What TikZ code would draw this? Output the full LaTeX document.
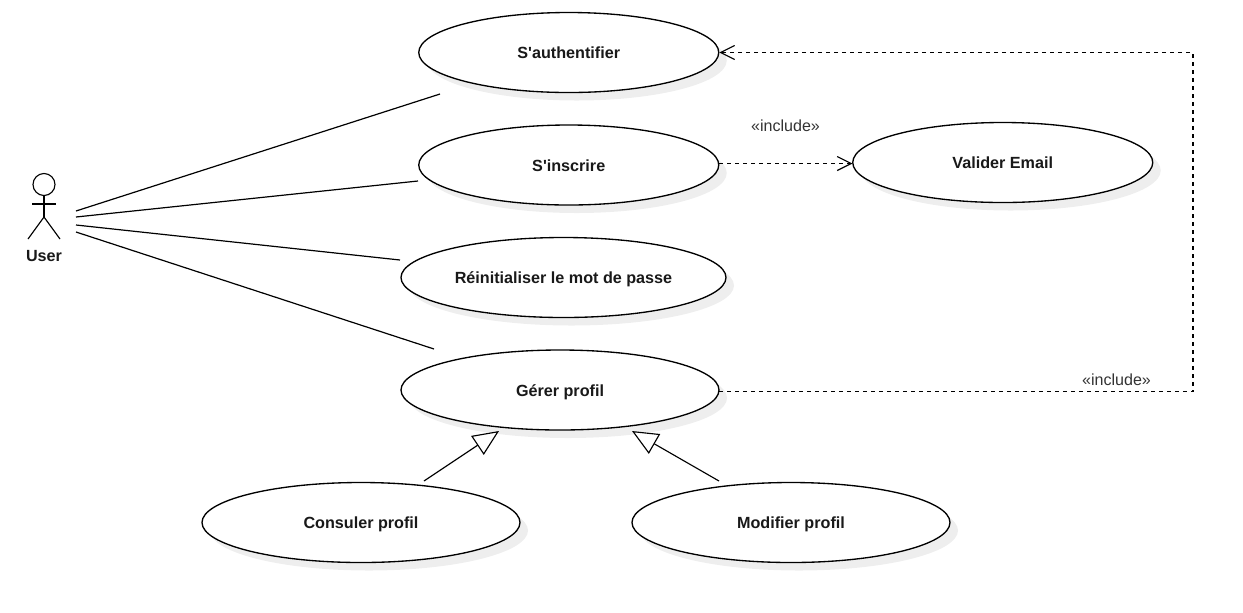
\documentclass[tikz,border=0pt]{standalone}
\usepackage{fontspec}
\setmainfont{Liberation Sans}
\usetikzlibrary{shapes.geometric,shadows,arrows.meta}
\definecolor{shadowgrey}{HTML}{EEEEEE}
\definecolor{labelgrey}{HTML}{333333}
\tikzset{
  usecase/.style={ellipse,draw=black,fill=white,line width=1pt,inner sep=0pt,minimum height=60pt,
    font=\bfseries\fontsize{12.12}{14}\selectfont,text=black!90,text height=10.5pt,text depth=1pt,
    drop shadow={shadow xshift=6pt,shadow yshift=-6pt,fill=shadowgrey,opacity=1}},
  assoc/.style={line width=0.9pt,draw=black},
  incl/.style={line width=0.85pt,draw=black,dash pattern=on 3pt off 3pt,-{Straight Barb[length=10.5pt,width=10.5pt,line width=0.85pt]}},
  gener/.style={line width=0.85pt,draw=black,-{Triangle[open,fill=white,length=19.5pt,width=17pt,line width=0.85pt]}},
  stereo/.style={font=\fontsize{12.05}{14}\selectfont,text=labelgrey,inner sep=0pt},
  stick/.style={line width=0.85pt,draw=black}
}
\begin{document}
\begin{tikzpicture}[x=0.75pt,y=-0.75pt]
\useasboundingbox (0,0) rectangle (1243,612);
\node[usecase,minimum width=225pt] (auth) at (568.75,52.5) {S\textquotesingle authentifier};
\node[usecase,minimum width=225pt] (insc) at (568.75,165) {S\textquotesingle inscrire};
\node[usecase,minimum width=243.75pt] (reset) at (563.5,277.5) {Réinitialiser le mot de passe};
\node[usecase,minimum width=238.5pt] (profil) at (560,390) {Gérer profil};
\node[usecase,minimum width=238.5pt] (consult) at (361,522.5) {Consuler profil};
\node[usecase,minimum width=238.5pt] (modif) at (791,522.5) {Modifier profil};
\node[usecase,minimum width=225pt] (email) at (1002.75,162.5) {Valider Email};
% actor
\node[circle,draw=black,line width=0.85pt,minimum size=16.5pt,inner sep=0pt] (head) at (44,184.5) {};
\coordinate (hip) at (44,217);
\coordinate (armL) at (32,204);
\coordinate (armR) at (56,204);
\coordinate (footL) at (28,239);
\coordinate (footR) at (60,239);
\draw[stick] (head.south) -- (hip);
\draw[stick] (armL) -- (armR);
\draw[stick] (footL) -- (hip) -- (footR);
\node[font=\bfseries\fontsize{12.12}{14}\selectfont,text=black!90,inner sep=0pt,text height=10.5pt,text depth=1pt] (user) at (44,255) {User};
% associations
\coordinate (u1) at (76,211);
\coordinate (u2) at (76,217);
\coordinate (u3) at (76,225);
\coordinate (u4) at (76,232);
\coordinate (e1) at (440,94);
\coordinate (e2) at (418,181);
\coordinate (e3) at (400,260);
\coordinate (e4) at (434,349);
\draw[assoc] (u1) -- (e1);
\draw[assoc] (u2) -- (e2);
\draw[assoc] (u3) -- (e3);
\draw[assoc] (u4) -- (e4);
% include
\coordinate (i1) at (719,163.5);
\coordinate (i2) at (852.5,163.5);
\coordinate (p1) at (719,391.5);
\coordinate (c1) at (1193,391.5);
\coordinate (c2) at (1193,52.5);
\draw[incl] (i1) -- (i2);
\draw[incl] (p1) -- (c1) -- (c2) -- (auth.east);
\node[stereo] (l1) at (785.5,125.5) {«include»};
\node[stereo] (l2) at (1116.5,379.5) {«include»};
% generalisation
\coordinate (g1s) at (424,481);
\coordinate (g1e) at (499,431);
\coordinate (g2s) at (719,481);
\coordinate (g2e) at (632,431);
\draw[gener] (g1s) -- (g1e);
\draw[gener] (g2s) -- (g2e);
\end{tikzpicture}
\end{document}
